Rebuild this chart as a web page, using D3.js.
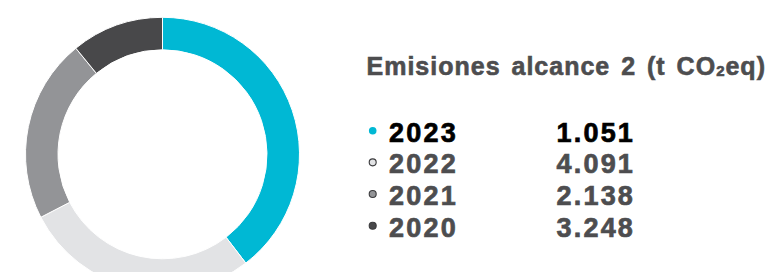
<!DOCTYPE html>
<html>
<head>
<meta charset="utf-8">
<title>Emisiones alcance 2</title>
<script src="https://cdn.jsdelivr.net/npm/d3@7"></script>
<style>
  body { margin: 0; background: #fff; }
  svg { display: block; }
  .title { font-family: "Liberation Sans", Arial, sans-serif; font-weight: bold; fill: #4d4d4f; stroke: #4d4d4f; stroke-width: 0.6px; }
  .row text { font-family: "Liberation Sans", Arial, sans-serif; font-weight: bold; stroke-width: 0.7px; }
</style>
</head>
<body>
<div id="chart"></div>
<script>
// legend data
var years = ["2023", "2022", "2021", "2020"];
var labels = ["1.051", "4.091", "2.138", "3.248"];
var arcShares = [39.6, 27.8, 21.7, 10.9];
var colors = ["#00b8d4", "#e2e3e5", "#939497", "#48484a"];
var titleText = "Emisiones alcance 2 (t CO";

var width = 766, height = 272;

var svg = d3.select("#chart").append("svg")
    .attr("width", width)
    .attr("height", height);

// donut
var cx = 162.5, cy = 154.3, outerR = 137, innerR = 104.5;

var pie = d3.pie().sort(null).value(function(d) { return d; });
var arc = d3.arc().innerRadius(innerR).outerRadius(outerR);

svg.append("g")
    .attr("transform", "translate(" + cx + "," + cy + ")")
  .selectAll("path")
  .data(pie(arcShares))
  .enter().append("path")
    .attr("d", arc)
    .attr("fill", function(d, i) { return colors[i]; })
    .attr("stroke", "#fff")
    .attr("stroke-width", 1);

// title
var title = svg.append("text")
    .attr("class", "title")
    .attr("x", 366.5)
    .attr("y", 75)
    .style("font-size", "25px")
    .style("letter-spacing", "1px")
    .style("word-spacing", "3px");
title.append("tspan").text(titleText);
title.append("tspan").style("font-size", "15px").attr("dy", 1).text("2");
title.append("tspan").attr("dy", -1).text("eq)");

// legend rows
var rowY = d3.scalePoint().domain(years).range([141.7, 236.7]);

var rows = svg.selectAll("g.row")
  .data(years)
  .enter().append("g")
    .attr("class", "row")
    .attr("transform", function(d) { return "translate(0," + rowY(d) + ")"; });

rows.append("circle")
    .attr("cx", 372.7)
    .attr("cy", -11)
    .attr("r", function(d, i) { return i === 0 ? 3.8 : 3.5; })
    .attr("fill", function(d, i) { return colors[i]; })
    .attr("stroke", function(d, i) { return i === 0 ? "none" : "#3a3a3c"; })
    .attr("stroke-width", 1.1);

function rowColor(d, i) { return i === 0 ? "#000" : "#4d4d4f"; }

rows.append("text")
    .attr("x", 389)
    .attr("y", 0)
    .style("font-size", "27px")
    .style("letter-spacing", "2.2px")
    .attr("fill", rowColor)
    .attr("stroke", rowColor)
    .text(function(d) { return d; });

rows.append("text")
    .attr("x", 556.5)
    .attr("y", 0)
    .style("font-size", "27px")
    .style("letter-spacing", "2.2px")
    .attr("fill", rowColor)
    .attr("stroke", rowColor)
    .text(function(d, i) { return labels[i]; });
</script>
</body>
</html>
